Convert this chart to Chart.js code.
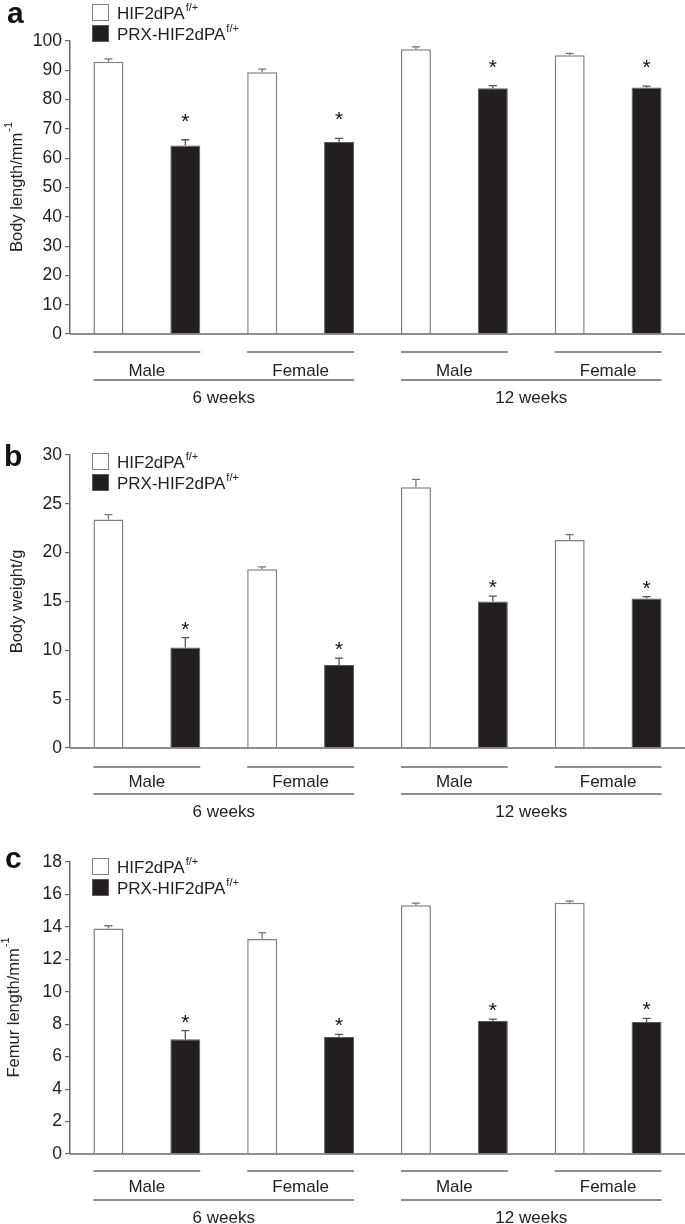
<!DOCTYPE html>
<html>
<head>
<meta charset="utf-8">
<script src="https://cdn.jsdelivr.net/npm/chart.js@4.4.0/dist/chart.umd.min.js"></script>
<style>
  body { margin: 0; background: #fff; }
  .panel { position: absolute; left: 0; width: 685px; }
</style>
</head>
<body>
<div class="panel" style="top:0;height:420px"><canvas id="chartA"></canvas></div>
<div class="panel" style="top:405px;height:425px"><canvas id="chartB"></canvas></div>
<div class="panel" style="top:810px;height:414px"><canvas id="chartC"></canvas></div>
<script>
// categories
var groups = ["Male 6 weeks", "Female 6 weeks", "Male 12 weeks", "Female 12 weeks"];
var sexLabels = ["Male", "Female", "Male", "Female"];
var ageLabels = ["6 weeks", "12 weeks"];
var seriesNames = ["HIF2dPA", "PRX-HIF2dPA"];

// a - body length (mm)
var lengthWt = [92.9, 89.3, 97.2, 95.1];
var lengthWtErr = [1.0, 1.1, 0.8, 0.7];
var lengthPrx = [64.3, 65.5, 83.9, 84.1];
var lengthPrxErr = [2.0, 1.3, 0.9, 0.5];
var lengthTicks = [0, 10, 20, 30, 40, 50, 60, 70, 80, 90, 100];

// b - body weight (g)
var weightWt = [23.4, 18.3, 26.7, 21.3];
var weightWtErr = [0.5, 0.25, 0.8, 0.55];
var weightPrx = [10.3, 8.5, 15.0, 15.3];
var weightPrxErr = [1.0, 0.7, 0.55, 0.2];
var weightTicks = [0, 5, 10, 15, 20, 25, 30];

// c - femur length (mm)
var femurWt = [13.9, 13.25, 15.33, 15.49];
var femurWtErr = [0.17, 0.4, 0.14, 0.1];
var femurPrx = [7.07, 7.21, 8.2, 8.14];
var femurPrxErr = [0.53, 0.17, 0.12, 0.22];
var femurTicks = [0, 2, 4, 6, 8, 10, 12, 14, 16, 18];

var FONT = "'Liberation Sans', Arial, Helvetica, sans-serif";
var GREY = '#6a6a6a';

// draws error bars, stars, legend, letter, axis title and grouped x labels
var decor = {
  id: 'decor',
  afterDatasetsDraw: function (chart) {
    var o = chart.options.plugins.decor;
    var ctx = chart.ctx;
    var area = chart.chartArea;
    var yS = chart.scales.y;
    var base = yS.getPixelForValue(0);
    ctx.save();

    // x axis line
    ctx.strokeStyle = GREY;
    ctx.lineWidth = 1.5;
    ctx.beginPath();
    ctx.moveTo(area.left, base);
    ctx.lineTo(area.right, base);
    ctx.stroke();

    // error bars (upper only)
    chart.data.datasets.forEach(function (ds, di) {
      var meta = chart.getDatasetMeta(di);
      meta.data.forEach(function (bar, i) {
        var top = yS.getPixelForValue(ds.data[i] + ds.err[i]);
        ctx.strokeStyle = di == 0 ? '#777' : '#555';
        ctx.lineWidth = 1.3;
        ctx.beginPath();
        ctx.moveTo(bar.x, bar.y);
        ctx.lineTo(bar.x, top);
        ctx.moveTo(bar.x - 4, top);
        ctx.lineTo(bar.x + 4, top);
        ctx.stroke();
        if (di == 1) {
          ctx.fillStyle = '#111';
          ctx.font = '21px ' + FONT;
          ctx.textAlign = 'center';
          ctx.textBaseline = 'alphabetic';
          ctx.fillText('*', bar.x, top - o.starGap);
        }
      });
    });

    // group lines + labels
    var mW = chart.getDatasetMeta(0).data, mB = chart.getDatasetMeta(1).data;
    ctx.strokeStyle = GREY;
    ctx.lineWidth = 1.5;
    ctx.fillStyle = '#222';
    ctx.font = '17px ' + FONT;
    ctx.textAlign = 'center';
    ctx.textBaseline = 'middle';
    for (var i = 0; i < groups.length; i++) {
      var x0 = mW[i].x - mW[i].width / 2, x1 = mB[i].x + mB[i].width / 2;
      ctx.beginPath();
      ctx.moveTo(x0, base + o.line1);
      ctx.lineTo(x1, base + o.line1);
      ctx.stroke();
      ctx.fillText(sexLabels[i], (x0 + x1) / 2, base + o.sexY);
    }
    for (var a = 0; a < ageLabels.length; a++) {
      var l = mW[a * 2].x - mW[a * 2].width / 2;
      var r = mB[a * 2 + 1].x + mB[a * 2 + 1].width / 2;
      ctx.beginPath();
      ctx.moveTo(l, base + o.line2);
      ctx.lineTo(r, base + o.line2);
      ctx.stroke();
      ctx.fillText(ageLabels[a], (l + r) / 2, base + o.ageY);
    }

    // legend
    var lx = area.left + 22, ly = area.top + o.legendTop;
    chart.data.datasets.forEach(function (ds, di) {
      var by = ly + di * 21;
      ctx.fillStyle = ds.backgroundColor;
      ctx.fillRect(lx, by, 17, 17);
      ctx.strokeStyle = ds.borderColor;
      ctx.lineWidth = 1;
      ctx.strokeRect(lx + 0.5, by + 0.5, 16, 16);
      ctx.fillStyle = '#222';
      ctx.textAlign = 'left';
      ctx.textBaseline = 'alphabetic';
      ctx.font = '17px ' + FONT;
      ctx.fillText(ds.label, lx + 25, by + 15);
      var w = ctx.measureText(ds.label).width;
      ctx.font = '11px ' + FONT;
      ctx.fillText('f/+', lx + 26 + w, by + 7);
    });

    // panel letter
    ctx.font = 'bold 30px ' + FONT;
    ctx.fillStyle = '#111';
    ctx.textAlign = 'left';
    ctx.fillText(o.letter, o.letterX, o.letterY);

    // y title (rotated, with superscript)
    ctx.translate(o.titleX, (area.top + area.bottom) / 2);
    ctx.rotate(-Math.PI / 2);
    ctx.fillStyle = '#222';
    ctx.font = '16.5px ' + FONT;
    var tw = ctx.measureText(o.title).width;
    ctx.font = '11px ' + FONT;
    var sw = o.titleSup ? ctx.measureText(o.titleSup).width : 0;
    var sx = -(tw + sw) / 2;
    ctx.font = '16.5px ' + FONT;
    ctx.textBaseline = 'middle';
    ctx.fillText(o.title, sx, 0);
    if (o.titleSup) {
      ctx.font = '11px ' + FONT;
      ctx.fillText(o.titleSup, sx + tw + 1, -8);
    }
    ctx.restore();
  }
};

function makeChart(id, wt, wtErr, prx, prxErr, ticks, pad, deco) {
  return new Chart(document.getElementById(id), {
    type: 'bar',
    data: {
      labels: groups,
      datasets: [{
        label: seriesNames[0],
        data: wt,
        err: wtErr,
        backgroundColor: '#ffffff',
        borderColor: '#808080',
        borderWidth: 1.5
      }, {
        label: seriesNames[1],
        data: prx,
        err: prxErr,
        backgroundColor: '#231f20',
        borderColor: '#5a5a5a',
        borderWidth: 1
      }]
    },
    options: {
      responsive: true,
      maintainAspectRatio: false,
      animation: false,
      layout: { padding: { left: 0, right: 0, top: pad[0], bottom: pad[1] } },
      plugins: { legend: { display: false }, tooltip: { enabled: false }, decor: deco },
      datasets: { bar: { categoryPercentage: 1.0, barPercentage: 0.39 } },
      scales: {
        x: { display: false },
        y: {
          min: ticks[0],
          max: ticks[ticks.length - 1],
          afterFit: function (s) { s.width = 70; },
          afterBuildTicks: function (s) { s.ticks = ticks.map(function (v) { return { value: v }; }); },
          ticks: { color: '#222', font: { family: FONT, size: 17.5 }, padding: 3 },
          grid: { drawOnChartArea: false, drawTicks: true, tickLength: 5, tickColor: GREY, color: GREY, lineWidth: 1.2 },
          border: { display: true, color: GREY, width: 1.5 }
        }
      }
    },
    plugins: [decor]
  });
}

makeChart('chartA', lengthWt, lengthWtErr, lengthPrx, lengthPrxErr, lengthTicks, [41, 86],
  { letter: 'a', letterX: 7, letterY: 23, legendTop: -37, title: 'Body length/mm', titleSup: '-1', titleX: 17,
    starGap: 12, line1: 18, sexY: 37, line2: 46, ageY: 64 });
makeChart('chartB', weightWt, weightWtErr, weightPrx, weightPrxErr, weightTicks, [50, 82],
  { letter: 'b', letterX: 4, letterY: 61, legendTop: -2, title: 'Body weight/g', titleSup: '', titleX: 17,
    starGap: 2, line1: 19, sexY: 34, line2: 46, ageY: 64 });
makeChart('chartC', femurWt, femurWtErr, femurPrx, femurPrxErr, femurTicks, [52, 70],
  { letter: 'c', letterX: 5, letterY: 58, legendTop: -4, title: 'Femur length/mm', titleSup: '-1', titleX: 14,
    starGap: 2, line1: 17, sexY: 33, line2: 46, ageY: 64 });
</script>
</body>
</html>
